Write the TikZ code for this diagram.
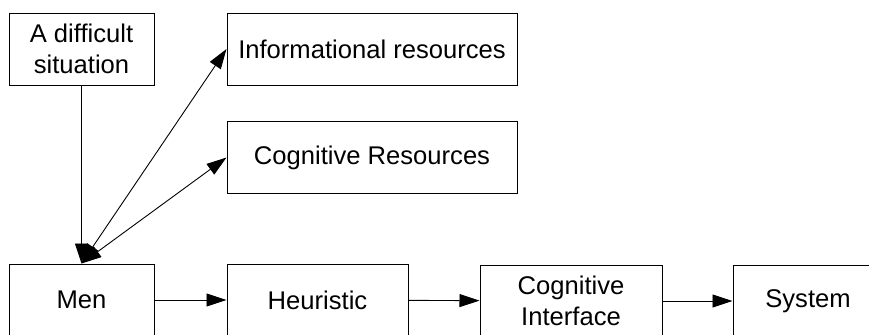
\documentclass[tikz,border=0pt]{standalone}
\usepackage{fontspec}
\setmainfont{Liberation Sans}
\usetikzlibrary{arrows.meta}

\tikzset{
  box/.style={draw, line width=.5pt, minimum height=36pt, inner sep=0pt,
    align=center, font=\fontsize{12.8}{15.5}\selectfont},
  link/.style={line width=.45pt, -{Triangle[length=10pt,width=6.5pt]}},
  twolink/.style={line width=.45pt,
    {Triangle[length=10pt,width=6.5pt]}-{Triangle[length=10pt,width=6.5pt]}}
}

\begin{document}
\begin{tikzpicture}[x=.5pt,y=-.5pt]
\useasboundingbox (0,0) rectangle (869,334);
\clip (0,0) rectangle (869,334);
% upper boxes
\node[box, minimum width=72.5pt] (sit) at (81.5,49) {A difficult\\situation};
\node[box, minimum width=145pt] (info) at (372,49) {Informational resources};
\node[box, minimum width=145pt] (cogres) at (372,157.5) {Cognitive Resources};
% lower row, cut by the bottom edge
\node[box, minimum width=72.5pt] (men) at (81.5,300) {Men};
\node[box, minimum width=90.5pt] (heur) at (317.5,300) {Heuristic};
\node[box, minimum width=91pt] (cogint) at (571,301) {Cognitive\\Interface};
\node[box, minimum width=75pt] (sys) at (808,301) {System};
% connectors
\draw[link] (sit) -- (men);
\draw[twolink] (men.north) -- (info.west);
\draw[twolink] (men.north) -- (cogres.west);
\draw[link] (men) -- (heur);
\draw[link] (heur) -- (cogint);
\draw[link] (cogint) -- (sys);
\end{tikzpicture}
\end{document}
